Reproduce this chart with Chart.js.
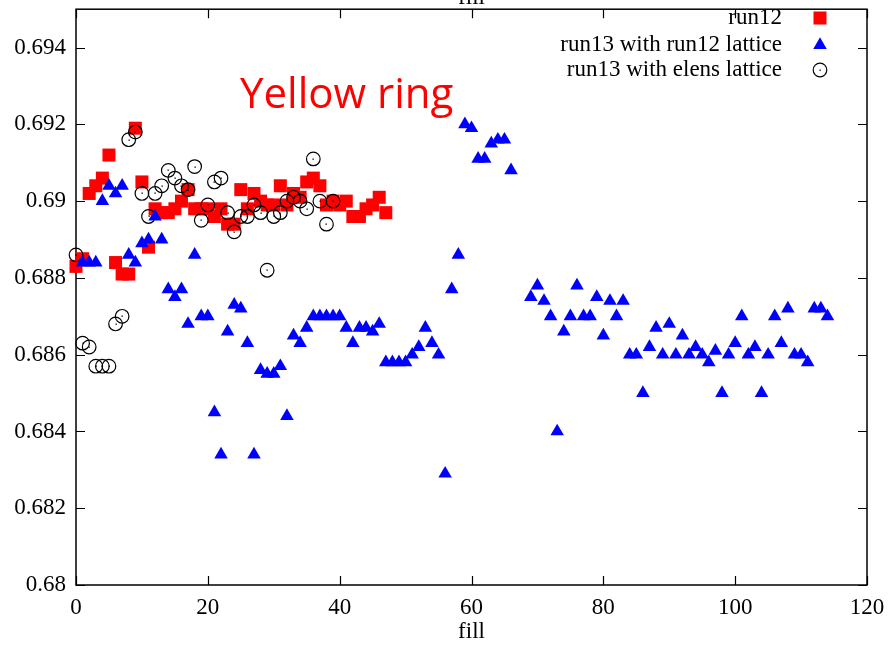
<!DOCTYPE html>
<html>
<head>
<meta charset="utf-8">
<title>Yellow ring tune vs fill</title>
<script src="https://cdn.jsdelivr.net/npm/chart.js@4.4.0/dist/chart.umd.min.js"></script>
<style>
  html, body { margin: 0; padding: 0; background: #fff; }
  #wrap { width: 888px; height: 649px; overflow: hidden; }
</style>
</head>
<body>
<div id="wrap"><canvas id="chartTune" width="888" height="649"></canvas></div>
<script>
// ── Ejes ──
const xTicks = [0, 20, 40, 60, 80, 100, 120];
const yTicks = [0.68, 0.682, 0.684, 0.686, 0.688, 0.69, 0.692, 0.694];

// ── run12 ──
const run12Fill = [0,1,2,3,4,5,6,7,8,9,10,11,12,13,14,15,16,17,18,19,20,21,22,23,
                   24,25,26,27,28,29,30,31,32,33,34,35,36,37,38,39,40,41,42,43,44,45,46,47];
const run12Tune = [0.6883,0.6885,0.6902,0.6904,0.6906,0.6912,0.6884,0.6881,0.6881,0.6919,
                   0.6905,0.6888,0.6898,0.6897,0.6897,0.6898,0.6900,0.6903,0.6898,0.6898,
                   0.6898,0.6896,0.6898,0.6894,0.6894,0.6903,0.6898,0.6902,0.6900,0.6899,
                   0.6899,0.6904,0.6899,0.6902,0.6901,0.6905,0.6906,0.6904,0.6899,0.6900,
                   0.6899,0.6900,0.6896,0.6896,0.6898,0.6899,0.6901,0.6897];

// ── run13 con lattice de run12 ──
const latticeFill = [1,2,3,4,5,6,7,8,9,10,11,12,13,14,15,16,17,18,19,20,21,22,23,24,25,
                     26,27,28,29,30,31,32,33,34,35,36,37,38,39,40,41,42,43,44,45,46,47,48,
                     49,50,51,52,53,54,55,56,57,58,59,60,61,62,63,64,65,66,
                     69,70,71,72,73,74,75,76,77,78,79,80,81,82,83,84,85,86,87,88,89,90,91,
                     92,93,94,95,96,97,98,99,100,101,102,103,104,105,106,107,108,109,110,
                     111,112,113,114];
const latticeTune = [0.6884,0.6884,0.6884,0.6900,0.6904,0.6902,0.6904,0.6886,0.6884,0.6889,
                     0.6890,0.6896,0.6890,0.6877,0.6875,0.6877,0.6868,0.6886,0.6870,0.6870,
                     0.6845,0.6834,0.6866,0.6873,0.6872,0.6863,0.6834,0.6856,0.6855,0.6855,
                     0.6857,0.6844,0.6865,0.6863,0.6867,0.6870,0.6870,0.6870,0.6870,0.6870,
                     0.6867,0.6863,0.6867,0.6867,0.6866,0.6868,0.6858,0.6858,0.6858,0.6858,
                     0.6860,0.6862,0.6867,0.6863,0.6860,0.6829,0.6877,0.6886,0.6920,0.6919,
                     0.6911,0.6911,0.6915,0.6916,0.6916,0.6908,
                     0.6875,0.6878,0.6874,0.6870,0.6840,0.6866,0.6870,0.6878,0.6870,0.6870,
                     0.6875,0.6865,0.6874,0.6870,0.6874,0.6860,0.6860,0.6850,0.6862,0.6867,
                     0.6860,0.6868,0.6860,0.6865,0.6860,0.6862,0.6860,0.6858,0.6861,0.6850,
                     0.6860,0.6863,0.6870,0.6860,0.6862,0.6850,0.6860,0.6870,0.6863,0.6872,
                     0.6860,0.6860,0.6858,0.6872,0.6872,0.6870];

// ── run13 con lattice elens ──
const elensFill = [0,1,2,3,4,5,6,7,8,9,10,11,12,13,14,15,16,17,18,19,20,21,22,23,24,25,
                   26,27,28,29,30,31,32,33,34,35,36,37,38,39];
const elensTune = [0.6886,0.6863,0.6862,0.6857,0.6857,0.6857,0.6868,0.6870,0.6916,0.6918,
                   0.6902,0.6896,0.6902,0.6904,0.6908,0.6906,0.6904,0.6903,0.6909,0.6895,
                   0.6899,0.6905,0.6906,0.6897,0.6892,0.6896,0.6896,0.6899,0.6897,0.6882,
                   0.6896,0.6897,0.6900,0.6901,0.6900,0.6898,0.6911,0.6900,0.6894,0.6900];

const serif = { family: "'Liberation Serif', 'Times New Roman', serif", size: 23 };
const TICK = 9;
const RING = 2;   // índice del dataset con círculos abiertos

const toPoints = (xs, ys) => xs.map((x, i) => ({ x, y: ys[i] }));

// punto pequeño en el centro de cada círculo
function centerDot(ctx, x, y) {
    ctx.fillStyle = '#000';
    ctx.fillRect(Math.round(x) - 0.5, Math.round(y) - 0.5, 1.3, 1.3);
}

// ── Marco con ticks hacia dentro en los cuatro lados ──
const frame = {
    id: 'frame',
    beforeDatasetsDraw(chart) {
        const { ctx, chartArea: a, scales: { x, y } } = chart;
        ctx.save();
        ctx.strokeStyle = '#000';
        ctx.lineWidth = 1.2;
        ctx.beginPath();
        x.ticks.forEach(t => {
            const px = Math.round(x.getPixelForValue(t.value)) + 0.5;
            ctx.moveTo(px, a.bottom); ctx.lineTo(px, a.bottom - TICK);
            ctx.moveTo(px, a.top);    ctx.lineTo(px, a.top + TICK);
        });
        y.ticks.forEach(t => {
            const py = Math.round(y.getPixelForValue(t.value)) + 0.5;
            ctx.moveTo(a.left, py);  ctx.lineTo(a.left + TICK, py);
            ctx.moveTo(a.right, py); ctx.lineTo(a.right - TICK, py);
        });
        ctx.stroke();
        ctx.lineWidth = 1.5;
        ctx.strokeRect(a.left, a.top, a.right - a.left, a.bottom - a.top);

        // título del eje superior, cortado por el borde
        ctx.fillStyle = '#000';
        ctx.font = `${serif.size}px ${serif.family}`;
        ctx.textAlign = 'center';
        ctx.textBaseline = 'alphabetic';
        ctx.fillText('fill', (a.left + a.right) / 2, 4);
        ctx.restore();
    },
    afterDatasetDraw(chart, args) {
        if (args.index !== RING) return;
        const ctx = chart.ctx;
        ctx.save();
        args.meta.data.forEach(pt => centerDot(ctx, pt.x, pt.y));
        ctx.restore();
    },
    afterDraw(chart) {
        const { ctx } = chart;
        const rows = [18, 45, 70];
        ctx.save();
        // leyenda arriba a la derecha
        ctx.font = `${serif.size}px ${serif.family}`;
        ctx.textAlign = 'right';
        ctx.textBaseline = 'middle';
        chart.data.datasets.forEach((ds, i) => {
            const yy = rows[i];
            ctx.fillStyle = '#000';
            ctx.fillText(ds.label, 782, yy);
            ctx.fillStyle = ds.backgroundColor;
            ctx.strokeStyle = ds.borderColor;
            ctx.lineWidth = ds.pointBorderWidth;
            Chart.helpers.drawPoint(ctx, {
                pointStyle: ds.pointStyle, radius: ds.pointRadius,
                rotation: 0, borderWidth: ds.pointBorderWidth
            }, 820, yy);
            if (i === RING) centerDot(ctx, 820, yy);
        });

        ctx.font = "42px 'Open Sans', sans-serif";
        ctx.fillStyle = '#ff0000';
        ctx.textAlign = 'left';
        ctx.textBaseline = 'alphabetic';
        ctx.fillText('Yellow ring', 240, 108);
        ctx.restore();
    }
};

new Chart(document.getElementById('chartTune'), {
    type: 'scatter',
    data: {
        datasets: [
            {
                label: 'run12',
                data: toPoints(run12Fill, run12Tune),
                pointStyle: 'rect',
                pointRadius: 9.2,
                pointBorderWidth: 0,
                backgroundColor: '#ff0000',
                borderColor: '#ff0000',
                order: 3,
                clip: false
            },
            {
                label: 'run13 with run12 lattice',
                data: toPoints(latticeFill, latticeTune),
                pointStyle: 'triangle',
                pointRadius: 7.8,
                pointBorderWidth: 0,
                backgroundColor: '#0000ff',
                borderColor: '#0000ff',
                order: 1,
                clip: false
            },
            {
                label: 'run13 with elens lattice',
                data: toPoints(elensFill, elensTune),
                pointStyle: 'circle',
                pointRadius: 6.8,
                pointBorderWidth: 1.2,
                backgroundColor: 'rgba(0,0,0,0)',
                borderColor: '#000',
                order: 2,
                clip: false
            }
        ]
    },
    options: {
        responsive: false,
        devicePixelRatio: 1,
        animation: false,
        layout: { padding: { top: 7, right: 21, left: 0, bottom: 0 } },
        plugins: {
            legend: { display: false },
            tooltip: { enabled: false }
        },
        scales: {
            x: {
                type: 'linear',
                min: 0, max: 120,
                afterBuildTicks: axis => { axis.ticks = xTicks.map(v => ({ value: v })); },
                afterFit: axis => { axis.height = 64; axis.paddingLeft = 0; axis.paddingRight = 0; },
                grid: { display: false, drawTicks: false },
                border: { display: false },
                ticks: { font: serif, color: '#000', padding: 9, maxRotation: 0, autoSkip: false },
                title: { display: true, text: 'fill', font: serif, color: '#000', padding: { top: 0, bottom: 3 } }
            },
            y: {
                type: 'linear',
                min: 0.68, max: 0.695,
                afterBuildTicks: axis => { axis.ticks = yTicks.map(v => ({ value: v })); },
                afterFit: axis => { axis.width = 76; axis.paddingTop = 0; axis.paddingBottom = 0; },
                grid: { display: false, drawTicks: false },
                border: { display: false },
                ticks: {
                    font: serif, color: '#000', padding: 10, autoSkip: false,
                    callback: v => String(+v.toFixed(3))
                }
            }
        }
    },
    plugins: [frame]
});
</script>
</body>
</html>
